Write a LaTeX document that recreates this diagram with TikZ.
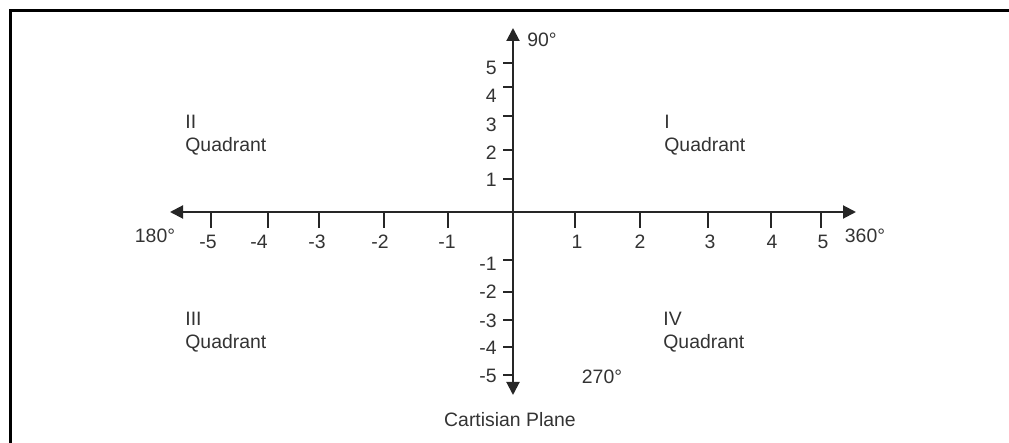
\documentclass[tikz,border=0pt]{standalone}
\usepackage{fontspec}
\setmainfont{Liberation Sans}
\usetikzlibrary{arrows.meta,positioning}

\begin{document}
\begin{tikzpicture}[x=0.5pt,y=-0.5pt,
  axis/.style={line width=1pt,draw=black!85,{Triangle[length=6.5pt,width=6.5pt]}-{Triangle[length=6.5pt,width=6.5pt]}},
  tick/.style={line width=1pt,draw=black!85},
  lbl/.style={font=\fontsize{9.7}{11.5}\selectfont,text=black!80,inner sep=0pt},
  quad/.style={lbl,align=left,anchor=north west}]
\useasboundingbox (0,0) rectangle (1009,443);
% frame (only top and left show)
\draw[line width=1.5pt] (10.5,443) -- (10.5,10.5) -- (1009,10.5);

% axes
  \coordinate (O)  at (513,212);
  \coordinate (W)  at (170,212);
  \coordinate (E)  at (856,212);
  \coordinate (N)  at (513,28);
  \coordinate (S)  at (513,395);
  \draw[axis] (W) -- (E);
  \draw[axis] (N) -- (S);

% ticks on x axis:  value/tick x/label x
\foreach \v/\t/\l in {-5/211/208,-4/268/259,-3/319/317,-2/384/380,-1/448/447,
                      1/575/577,2/640/640,3/708/710,4/771/772,5/821/823}{
  \coordinate (xt\v) at (\t,212);
  \draw[tick] (xt\v) -- ++(0,16);
  \node[lbl] (xl\v) at (\l,242) {\v};
}
% ticks on y axis:  value/tick y/label y
\foreach \v/\t/\l in {5/63/68,4/87/96,3/116/125,2/150/153,1/179/180,
                      -1/260/264,-2/292/292,-3/320/321,-4/347/348,-5/375/376}{
  \coordinate (yt\v) at (513,\t);
  \draw[tick] (yt\v) -- ++(-10,0);
  \node[lbl,anchor=east] (yl\v) at (497,\l) {\v};
}

% angles
  \node[lbl] (a90)  at (542,40)  {90°};
  \node[lbl] (a180) at (155,236) {180°};
  \node[lbl] (a360) at (865,236) {360°};
  \node[lbl] (a270) at (602,377) {270°};

% quadrants
  \node[quad] (q2) at (185,115) {II\\Quadrant};
  \node[quad] (q1) at (664,115) {I\\Quadrant};
  \node[quad] (q3) at (185,312) {III\\Quadrant};
  \node[quad] (q4) at (663,312) {IV\\Quadrant};

  \node[lbl] (title) at (510,420) {Cartisian Plane};
\end{tikzpicture}
\end{document}
